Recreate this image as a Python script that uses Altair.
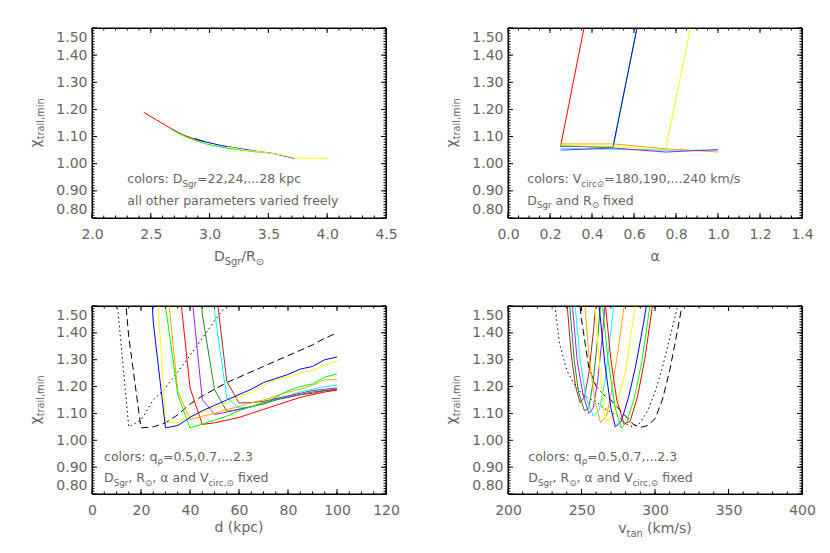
import altair as alt
import pandas as pd

FONT = "DejaVu Sans"
TXT = "#666666"
LS = 14
AS = 12.5

# ---------------- data ----------------
# Top-left: chi vs D_Sgr/R_sun
tl_red_x = [2.44, 2.55, 2.67, 2.77, 2.87, 2.95]
tl_red_y = [1.189, 1.161, 1.130, 1.107, 1.091, 1.081]
tl_green_x = [2.67, 2.77, 2.87, 2.97, 3.10, 3.25, 3.43]
tl_green_y = [1.128, 1.104, 1.087, 1.073, 1.061, 1.051, 1.042]
tl_blue_x = [2.87, 2.97, 3.10, 3.25, 3.40, 3.55, 3.72]
tl_blue_y = [1.093, 1.080, 1.067, 1.056, 1.046, 1.037, 1.020]
tl_yellow_x = [3.15, 3.30, 3.45, 3.60, 3.72, 3.85, 4.00]
tl_yellow_y = [1.062, 1.050, 1.043, 1.033, 1.022, 1.020, 1.020]

# Top-right: chi vs alpha
tr_alpha = [0.25, 0.50, 0.75, 1.00]
tr_red = [1.063, 2.04, 2.30, 2.40]
tr_green = [1.068, 1.058, 2.03, 2.30]
tr_blue = [1.064, 1.062, 2.02, 2.30]
tr_yellow = [1.066, 1.064, 1.050, 2.00]
tr_cyan = [1.057, 1.053, 1.050, 1.050]
tr_orange = [1.073, 1.073, 1.055, 1.043]
tr_purple = [1.050, 1.058, 1.043, 1.052]

# Bottom-left: chi vs d (kpc)
bl_dotted_d = [5, 10, 15, 20, 25, 30, 35, 40, 45, 50, 55, 60]
bl_dotted_y = [3.0, 1.54, 1.05, 1.075, 1.15, 1.195, 1.255, 1.315, 1.38, 1.445, 1.505, 1.57]
bl_dashed_d = [10, 15, 20, 25, 30, 35, 40, 45, 50, 55, 60, 65, 70, 75, 80, 85, 90, 95, 100]
bl_dashed_y = [1.9, 1.385, 1.046, 1.05, 1.065, 1.095, 1.135, 1.165, 1.19, 1.215, 1.235, 1.255,
               1.275, 1.295, 1.315, 1.335, 1.355, 1.38, 1.40]
bl_blue_d = [20, 25, 30, 35, 40, 45, 50, 55, 60, 65, 70, 75, 80, 85, 90, 95, 100]
bl_blue_y = [2.2, 1.44, 1.046, 1.055, 1.085, 1.11, 1.13, 1.15, 1.17, 1.19, 1.215, 1.23, 1.245,
             1.265, 1.275, 1.30, 1.31]
bl_yellow_d = [25, 30, 35, 40, 45, 50, 55, 60, 65, 70, 75, 80, 85, 90, 95, 100]
bl_yellow_y = [1.79, 1.067, 1.067, 1.09, 1.105, 1.12, 1.14, 1.16, 1.18, 1.205, 1.225, 1.235,
               1.25, 1.26, 1.28, 1.297]
bl_green_d = [25, 30, 35, 40, 45, 50, 55, 60, 65, 70, 75, 80, 85, 90, 95, 100]
bl_green_y = [2.4, 1.50, 1.17, 1.046, 1.06, 1.075, 1.09, 1.11, 1.125, 1.14, 1.16, 1.185, 1.20,
              1.21, 1.235, 1.247]
bl_orange_d = [25, 30, 35, 40, 45, 50, 55, 60, 65, 70, 75, 80, 85, 90, 95, 100]
bl_orange_y = [2.4, 1.636, 1.183, 1.077, 1.09, 1.10, 1.115, 1.125, 1.14, 1.15, 1.165, 1.18,
               1.19, 1.205, 1.225, 1.226]
bl_red_d = [30, 35, 40, 45, 50, 55, 60, 65, 70, 75, 80, 85, 90, 95, 100]
bl_red_y = [2.4, 1.63, 1.195, 1.059, 1.065, 1.075, 1.085, 1.10, 1.115, 1.13, 1.145, 1.16, 1.17,
            1.18, 1.187]
bl_purple_d = [35, 40, 45, 50, 55, 60, 65, 70, 75, 80, 85, 90, 95, 100]
bl_purple_y = [2.4, 1.61, 1.152, 1.096, 1.105, 1.115, 1.125, 1.14, 1.155, 1.165, 1.175, 1.185,
               1.19, 1.195]
bl_dkgreen_d = [40, 45, 50, 55, 60, 65, 70, 75, 80, 85, 90, 95, 100]
bl_dkgreen_y = [2.4, 1.47, 1.189, 1.108, 1.115, 1.125, 1.135, 1.15, 1.16, 1.17, 1.18, 1.185, 1.188]
bl_cyan_d = [45, 50, 55, 60, 65, 70, 75, 80, 85, 90, 95, 100]
bl_cyan_y = [2.4, 1.48, 1.158, 1.12, 1.125, 1.14, 1.15, 1.165, 1.18, 1.19, 1.20, 1.205]
bl_brown_d = [45, 50, 55, 60, 65, 70, 75, 80, 85, 90, 95, 100]
bl_brown_y = [2.4, 1.61, 1.22, 1.139, 1.14, 1.145, 1.155, 1.16, 1.17, 1.175, 1.185, 1.19]

# Bottom-right: chi vs v_tan
br_dotted_v = [228, 232, 235, 240, 245, 250, 255, 260, 265, 270, 275, 280, 285, 290, 295, 300, 305, 310, 315, 320]
br_dotted_y = [1.7, 1.50, 1.36, 1.26, 1.21, 1.175, 1.155, 1.145, 1.12, 1.105, 1.09, 1.06, 1.05,
               1.065, 1.11, 1.18, 1.27, 1.38, 1.49, 1.60]
br_dashed_v = [245, 250, 255, 260, 265, 270, 275, 280, 285, 290, 295, 300, 305, 310, 315, 320]
br_dashed_y = [1.7, 1.45, 1.27, 1.20, 1.17, 1.15, 1.12, 1.09, 1.06, 1.048, 1.055, 1.08, 1.15,
               1.26, 1.40, 1.55]
br_brown_v = [237, 240, 243, 246, 249, 252, 255, 258, 261]
br_brown_y = [1.80, 1.52, 1.32, 1.20, 1.14, 1.16, 1.25, 1.40, 1.58]
br_dkgreen_v = [239, 242, 245, 248, 252, 255, 258, 261, 264]
br_dkgreen_y = [1.78, 1.50, 1.30, 1.18, 1.11, 1.12, 1.22, 1.38, 1.58]
br_purple_v = [241, 244, 247, 251, 255, 258, 261, 264, 267]
br_purple_y = [1.75, 1.49, 1.30, 1.17, 1.10, 1.12, 1.22, 1.38, 1.56]
br_cyan_v = [243, 246, 249, 253, 258, 262, 266, 269, 273]
br_cyan_y = [1.75, 1.48, 1.30, 1.16, 1.09, 1.11, 1.22, 1.36, 1.55]
br_orange_v = [249, 252, 255, 259, 263, 267, 271, 275, 280]
br_orange_y = [1.80, 1.52, 1.32, 1.15, 1.065, 1.09, 1.20, 1.34, 1.54]
br_yellow_v = [256, 259, 262, 265, 267, 270, 275, 280, 286, 289]
br_yellow_y = [1.80, 1.52, 1.30, 1.12, 1.07, 1.08, 1.15, 1.26, 1.48, 1.62]
br_blue_v = [258, 262, 266, 270, 273, 277, 282, 287, 292, 296]
br_blue_y = [1.80, 1.50, 1.28, 1.12, 1.05, 1.07, 1.16, 1.28, 1.43, 1.56]
br_green_v = [261, 264, 268, 273, 277, 281, 286, 291, 296, 299]
br_green_y = [1.80, 1.52, 1.30, 1.12, 1.046, 1.07, 1.16, 1.29, 1.48, 1.62]
br_red_v = [263, 266, 270, 274, 279, 283, 288, 293, 298, 301]
br_red_y = [1.80, 1.52, 1.30, 1.15, 1.06, 1.07, 1.16, 1.30, 1.49, 1.62]

Y_DOM = [0.8, 1.5]
Y_TICKS = [0.8, 0.9, 1.0, 1.1, 1.2, 1.3, 1.4, 1.5]

COL = {"red": "#ff0000", "green": "#00ff00", "blue": "#0000ff", "yellow": "#ffff00",
       "cyan": "#00ffff", "orange": "#ffa500", "purple": "#a020f0", "dkgreen": "#228b22",
       "brown": "#a52a2a", "black": "#000000"}

# DejaVu Sans advance widths (units per em = 2048)
DV = {" ": 651, ",": 651, ".": 651, ":": 690, "=": 1716, "/": 690, "(": 799, ")": 799,
      "a": 1255, "b": 1300, "c": 1126, "d": 1300, "e": 1260, "f": 721, "g": 1300, "h": 1298,
      "i": 569, "k": 1186, "l": 569, "m": 1995, "n": 1298, "o": 1253, "p": 1300, "q": 1300,
      "r": 842, "s": 1067, "t": 803, "u": 1298, "v": 1212, "x": 1212, "y": 1212,
      "D": 1577, "R": 1423, "S": 1300, "V": 1401, "⊙": 1716, "ρ": 1300, "α": 1300, "χ": 1212}
for _c in "0123456789":
    DV[_c] = 1303


def tw(s, size):
    return sum(DV.get(c, 1300) for c in s) / 2048.0 * size


class Panel:
    def __init__(self, W, H, xdom, xmaj, xfmt):
        self.W, self.H = W, H
        self.xdom = xdom
        self.xsc = alt.Scale(domain=xdom, nice=False, zero=False)
        self.ysc = alt.Scale(domain=Y_DOM, nice=False, zero=False)
        self.xax = alt.Axis(values=xmaj, format=xfmt, ticks=False, domain=False, grid=False,
                            title=None, labelFont=FONT, labelFontSize=LS, labelColor=TXT,
                            labelPadding=9, labelFlush=False, labelOverlap=False)
        self.yax = alt.Axis(values=Y_TICKS, format=".2f", ticks=False, domain=False, grid=False,
                            title=None, labelFont=FONT, labelFontSize=LS, labelColor=TXT,
                            labelPadding=5, labelFlush=True, labelFlushOffset=-2,
                            labelOverlap=False)

    def X(self, f):
        return alt.X(f, scale=self.xsc, axis=self.xax)

    def Y(self, f):
        return alt.Y(f, scale=self.ysc, axis=self.yax)


def rich(P, segs, size, xv, yv, angle=0, center=False, px=False):
    """Text with subscripts, built from several text marks."""
    widths = [tw(t, size if k == "n" else size * 0.7) for t, k in segs]
    off = -sum(widths) / 2.0 if center else 0.0
    out = []
    for (t, k), w in zip(segs, widths):
        fs = size if k == "n" else size * 0.7
        dy = 0 if k == "n" else size * 0.28
        lead = len(t) - len(t.lstrip(" "))
        s = t.strip(" ")
        df = pd.DataFrame({"x": [xv], "y": [yv], "t": [s]})
        if px:
            enc = dict(x=alt.value(xv), y=alt.value(yv), text="t:N")
        else:
            enc = dict(x=P.X("x:Q"), y=P.Y("y:Q"), text="t:N")
        mk = dict(align="left", baseline="alphabetic", dx=off + tw(" " * lead, fs), dy=dy,
                  fontSize=fs, font=FONT, color=TXT)
        if angle:
            mk["angle"] = angle
        out.append(alt.Chart(df).mark_text(**mk).encode(**enc))
        off += w
    return out


def ticks_layers(P, xmaj, xmin, ymaj, ymin):
    """Inward ticks on all four sides plus the frame, all in data units."""
    MJ, MN = 5.0, 2.5
    W, H = P.W, P.H
    x0, x1 = P.xdom
    y0, y1 = Y_DOM
    kx = (x1 - x0) / W   # data units per pixel
    ky = (y1 - y0) / H
    rows = []
    for vals, ln in ((xmaj, MJ), (xmin, MN)):
        for v in vals:
            rows.append((v, v, y0, y0 + ln * ky))
            rows.append((v, v, y1, y1 - ln * ky))
    for vals, ln in ((ymaj, MJ), (ymin, MN)):
        for v in vals:
            rows.append((x0, x0 + ln * kx, v, v))
            rows.append((x1, x1 - ln * kx, v, v))
    rows += [(x0, x1, y0, y0), (x0, x1, y1, y1), (x0, x0, y0, y1), (x1, x1, y0, y1)]
    df = pd.DataFrame(rows, columns=["xa", "xb", "ya", "yb"])
    return [alt.Chart(df).mark_rule(color="#000000", strokeWidth=1).encode(
        x=P.X("xa:Q"), x2="xb:Q", y=P.Y("ya:Q"), y2="yb:Q")]


def line(P, xs, ys, color, dash=None):
    df = pd.DataFrame({"x": xs, "y": ys})
    mk = dict(color=COL[color], strokeWidth=1, clip=True)
    if dash:
        mk["strokeDash"] = dash
    return alt.Chart(df).mark_line(**mk).encode(x=P.X("x:Q"), y=P.Y("y:Q"))


def frange(a, b, step, nd=3):
    n = int(round((b - a) / step))
    return [round(a + i * step, nd) for i in range(n + 1)]


Y_MINOR = frange(0.8, 1.5, 0.01)
YT = [("χ", "n"), ("trail,min", "s")]


def panel(W, H, xdom, xmaj, xmin, xfmt, lines, notes, xtitle, title_dy):
    P = Panel(W, H, xdom, xmaj, xfmt)
    layers = []
    for l in lines:
        layers.append(line(P, l[0], l[1], l[2], l[3] if len(l) > 3 else None))
    layers += ticks_layers(P, xmaj, xmin, Y_TICKS, Y_MINOR)
    for segs, xv, yv in notes:
        layers += rich(P, segs, AS, xv, yv)
    layers += rich(P, xtitle, LS, W / 2.0, H + title_dy, center=True, px=True)
    layers += rich(P, YT, LS, -52, H / 2.0, angle=270, center=True, px=True)
    return alt.layer(*layers).properties(width=W, height=H)


W = 294
HT, HB = 190, 188

p1 = panel(W, HT, [2.0, 4.5], frange(2.0, 4.5, 0.5), frange(2.0, 4.5, 0.1), ".1f",
           [(tl_red_x, tl_red_y, "red"), (tl_green_x, tl_green_y, "green"),
            (tl_blue_x, tl_blue_y, "blue"), (tl_yellow_x, tl_yellow_y, "yellow")],
           [([("colors: D", "n"), ("Sgr", "s"), ("=22,24,...28 kpc", "n")], 2.30, 0.928),
            ([("all other parameters varied freely", "n")], 2.30, 0.848)],
           [("D", "n"), ("Sgr", "s"), ("/R", "n"), ("⊙", "s")], 43)

p2 = panel(W, HT, [0.0, 1.4], frange(0.0, 1.4, 0.2), frange(0.0, 1.4, 0.05), ".1f",
           [(tr_alpha, tr_red, "red"), (tr_alpha, tr_green, "green"),
            (tr_alpha, tr_blue, "blue"), (tr_alpha, tr_yellow, "yellow"),
            (tr_alpha, tr_cyan, "cyan"), (tr_alpha, tr_orange, "orange"),
            (tr_alpha, tr_purple, "purple")],
           [([("colors: V", "n"), ("circ⊙", "s"), ("=180,190,...240 km/s", "n")], 0.092, 0.928),
            ([("D", "n"), ("Sgr", "s"), (" and R", "n"), ("⊙", "s"), (" fixed", "n")], 0.092, 0.848)],
           [("α", "n")], 43)

note_q = [([("colors: q", "n"), ("ρ", "s"), ("=0.5,0.7,...2.3", "n")], 0.924),
          ([("D", "n"), ("Sgr", "s"), (", R", "n"), ("⊙", "s"), (", α and V", "n"),
            ("circ,⊙", "s"), (" fixed", "n")], 0.843)]

p3 = panel(W, HB, [0, 120], frange(0, 120, 20, 0), frange(0, 120, 5, 0), "d",
           [(bl_dotted_d, bl_dotted_y, "black", [1.5, 3]), (bl_dashed_d, bl_dashed_y, "black", [7, 4]),
            (bl_brown_d, bl_brown_y, "brown"), (bl_cyan_d, bl_cyan_y, "cyan"),
            (bl_dkgreen_d, bl_dkgreen_y, "dkgreen"), (bl_purple_d, bl_purple_y, "purple"),
            (bl_red_d, bl_red_y, "red"), (bl_orange_d, bl_orange_y, "orange"),
            (bl_green_d, bl_green_y, "green"), (bl_yellow_d, bl_yellow_y, "yellow"),
            (bl_blue_d, bl_blue_y, "blue")],
           [(s, 4.9, y) for s, y in note_q],
           [("d (kpc)", "n")], 38)

p4 = panel(W, HB, [200, 400], frange(200, 400, 50, 0), frange(200, 400, 10, 0), "d",
           [(br_dotted_v, br_dotted_y, "black", [1.5, 3]), (br_dashed_v, br_dashed_y, "black", [7, 4]),
            (br_brown_v, br_brown_y, "brown"), (br_dkgreen_v, br_dkgreen_y, "dkgreen"),
            (br_purple_v, br_purple_y, "purple"), (br_cyan_v, br_cyan_y, "cyan"),
            (br_orange_v, br_orange_y, "orange"), (br_yellow_v, br_yellow_y, "yellow"),
            (br_blue_v, br_blue_y, "blue"), (br_green_v, br_green_y, "green"),
            (br_red_v, br_red_y, "red")],
           [(s, 213.8, y) for s, y in note_q],
           [("v", "n"), ("tan", "s"), (" (km/s)", "n")], 39)

chart = alt.concat(p1, p2, p3, p4, columns=2, spacing={"row": 88, "column": 122}).properties(
    bounds="flush",
    background="white",
    padding={"left": 20, "top": 19, "right": 5, "bottom": 5},
).configure_view(stroke="#000000", strokeWidth=1)

chart.save("out.html", embed_options={"renderer": "svg", "actions": False})
